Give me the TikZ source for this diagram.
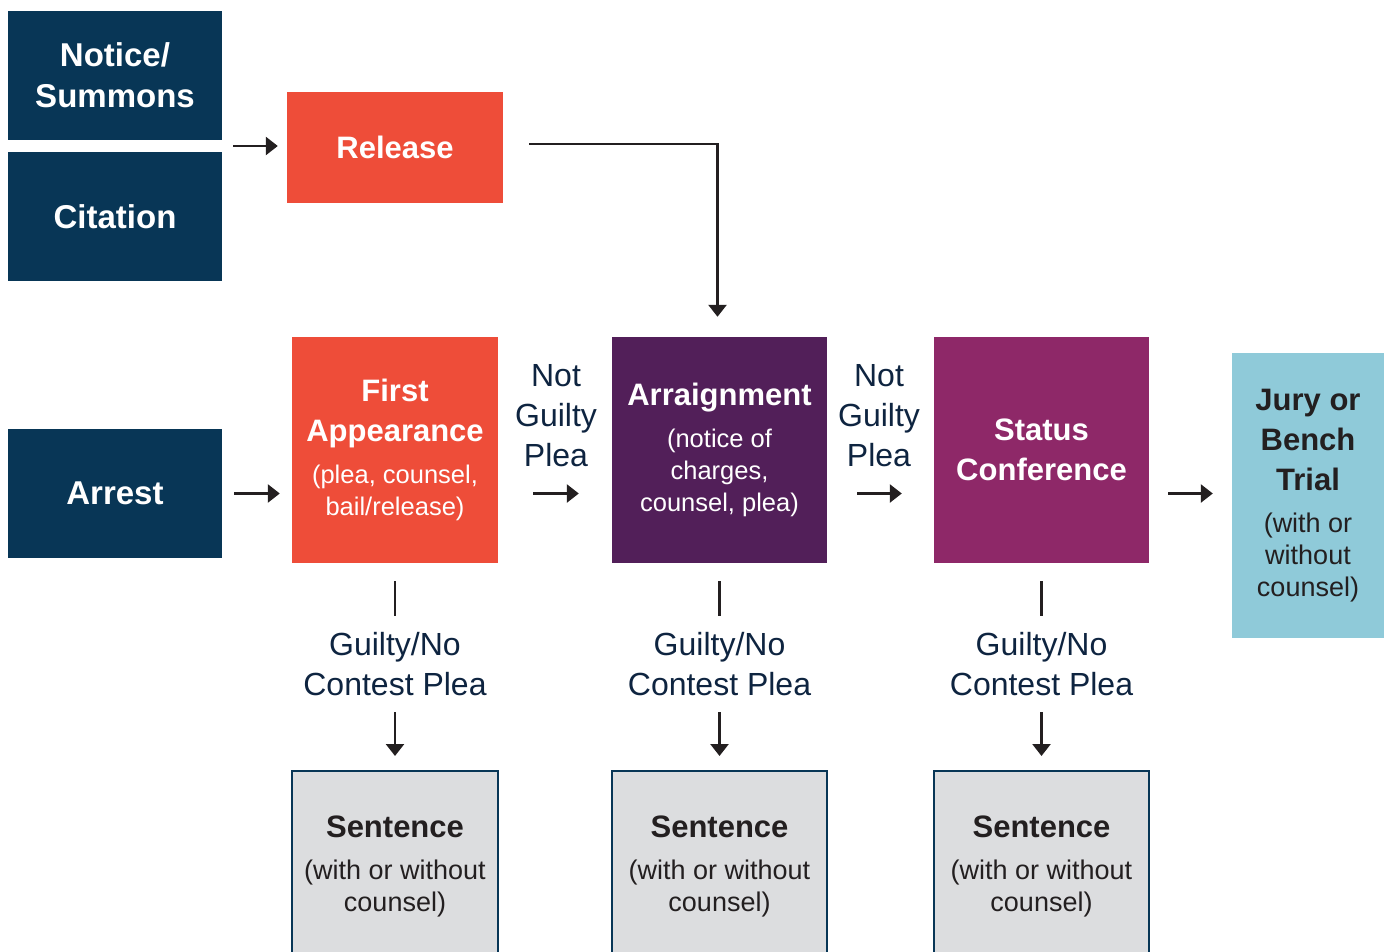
\documentclass[tikz,border=0pt]{standalone}
\usepackage{fontspec}
\setmainfont{Liberation Sans}
\usetikzlibrary{arrows.meta,calc}

\definecolor{navy}{HTML}{083656}
\definecolor{tomato}{HTML}{EE4D39}
\definecolor{plum}{HTML}{521F59}
\definecolor{berry}{HTML}{8E2868}
\definecolor{sky}{HTML}{8FCAD9}
\definecolor{paper}{HTML}{DCDDDF}
\definecolor{ink}{HTML}{231F20}
\definecolor{labelink}{HTML}{0E2440}

\newcommand{\boxtitle}{\fontsize{31}{40}\selectfont\bfseries}
\newcommand{\entrytitle}{\fontsize{33}{41}\selectfont\bfseries}
\newcommand{\boxsub}{\fontsize{25.5}{32}\selectfont\mdseries}
\newcommand{\boxsubwide}{\fontsize{27}{32}\selectfont\mdseries}

\tikzset{
  stage/.style={rectangle, inner sep=0pt, align=center, text=white, font=\boxtitle},
  entry/.style={stage, fill=navy, font=\entrytitle, minimum width=214pt, minimum height=129pt},
  sentencebox/.style={rectangle, inner sep=0pt, align=center, text=ink, font=\boxtitle,
    fill=paper, draw=navy, line width=2pt, minimum height=190pt},
  steplabel/.style={inner sep=0pt, align=center, text=labelink,
    font=\fontsize{32}{40}\selectfont},
  flow/.style={draw=ink, line width=2.6pt, -{Triangle[length=12pt,width=18pt]}},
  flowplain/.style={draw=ink, line width=2.6pt}
}

\begin{document}
\begin{tikzpicture}[x=1pt,y=-1pt]
\useasboundingbox (0,0) rectangle (1386,952);

% entry points
\node[entry] (notice) at (115,75.5) {Notice/\\Summons};
\node[entry] (citation) at (115,216.5) {Citation};
\node[entry] (arrest) at (115,493.5) {Arrest};
\node[stage, fill=tomato, minimum width=216pt, minimum height=111pt] (release) at (395,147.5) {Release};

% main stages
\node[stage, fill=tomato, minimum width=206pt, minimum height=226pt] (first) at (395,450)
  {First\\Appearance\\[2pt]\boxsub (plea, counsel,\\[-8pt]\boxsub bail/release)};
\node[stage, fill=plum, minimum width=215pt, minimum height=226pt] (arraign) at (719.5,450)
  {Arraignment\\[2pt]\boxsub (notice of\\[-8pt]\boxsub charges,\\[-8pt]\boxsub counsel, plea)};
\node[stage, fill=berry, minimum width=215pt, minimum height=226pt] (status) at (1041.5,450)
  {Status\\Conference};
\node[stage, fill=sky, text=ink, minimum width=152pt, minimum height=285pt] (trial) at (1308,495.5)
  {Jury or\\Bench\\Trial\\[2pt]\boxsubwide (with or\\[-8pt]\boxsubwide without\\[-8pt]\boxsubwide counsel)};

% sentences (boxes run off the lower edge)
\node[sentencebox, minimum width=206pt] (sent1) at (395,866)
  {Sentence\\[2pt]\boxsubwide (with or without\\[-8pt]\boxsubwide counsel)};
\node[sentencebox, minimum width=215pt] (sent2) at (719.5,866)
  {Sentence\\[2pt]\boxsubwide (with or without\\[-8pt]\boxsubwide counsel)};
\node[sentencebox, minimum width=215pt] (sent3) at (1041.5,866)
  {Sentence\\[2pt]\boxsubwide (with or without\\[-8pt]\boxsubwide counsel)};

% plea labels
\node[steplabel] (ng1) at (556,416) {Not\\Guilty\\Plea};
\node[steplabel] (ng2) at (879,416) {Not\\Guilty\\Plea};
\node[steplabel, minimum height=87pt] (gp1) at (395,664) {Guilty/No\\Contest Plea};
\node[steplabel, minimum height=87pt] (gp2) at (719.5,664) {Guilty/No\\Contest Plea};
\node[steplabel, minimum height=87pt] (gp3) at (1041.5,664) {Guilty/No\\Contest Plea};

% connectors
\coordinate (entrymid) at ($(notice.east)!0.5!(citation.east)$);
\draw[flow, shorten <=11pt, shorten >=9pt] (entrymid) -- (entrymid -| release.west);
\draw[flow] ($(release.east)+(26,-3.5)$) -| ($(arraign.north)+(-2,-20)$);

\draw[flow, shorten <=12pt, shorten >=12pt] (arrest.east) -- (arrest.east -| first.west);
\draw[flow, shorten <=35pt, shorten >=33pt] (first.east |- arrest.east) -- (arraign.west |- arrest.east);
\draw[flow, shorten <=30pt, shorten >=32pt] (arraign.east |- arrest.east) -- (status.west |- arrest.east);
\draw[flow, shorten <=19pt, shorten >=19pt] (status.east |- arrest.east) -- (trial.west |- arrest.east);

\foreach \s/\g/\t in {first/gp1/sent1, arraign/gp2/sent2, status/gp3/sent3}{
  \draw[flowplain, shorten <=18pt, shorten >=4.5pt] (\s.south) -- (\g.north);
  \draw[flow, shorten <=4.5pt, shorten >=14pt] (\g.south) -- (\t.north);
}
\end{tikzpicture}
\end{document}
